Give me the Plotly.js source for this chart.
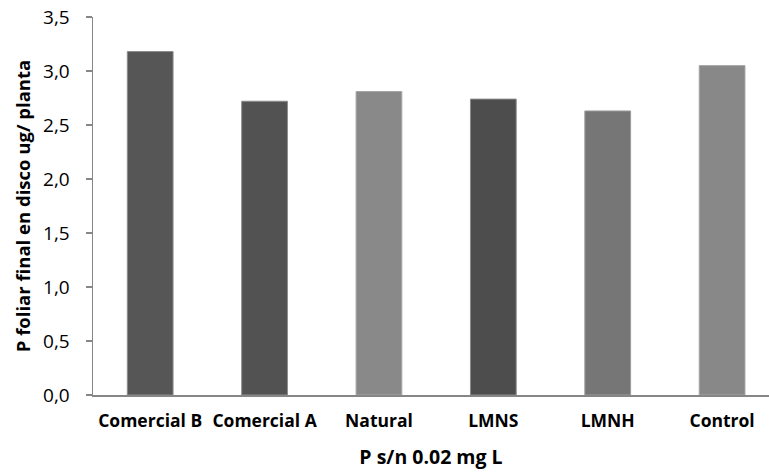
<!DOCTYPE html>
<html>
<head>
<meta charset="utf-8">
<script src="https://cdn.plot.ly/plotly-3.0.1.min.js"></script>
<style>
  html, body { margin: 0; padding: 0; background: #ffffff; }
  #chart { width: 769px; height: 472px; }
</style>
</head>
<body>
<div id="chart"></div>
<script>
// Foliar P per treatment
const categories = ["Comercial B", "Comercial A", "Natural", "LMNS", "LMNH", "Control"];
const values = [3.18, 2.72, 2.81, 2.74, 2.63, 3.05];
const barColors = ["#565656", "#525252", "#898989", "#4d4d4d", "#767676", "#888888"];
const edgeColors = ["#8c8c8c", "#8c8c8c", "#a6a6a6", "#8c8c8c", "#9c9c9c", "#a6a6a6"];
const yTicks = [0, 0.5, 1, 1.5, 2, 2.5, 3, 3.5];

const font = "'Open Sans', 'Liberation Sans', sans-serif";

const trace = {
  type: "bar",
  x: categories,
  y: values,
  marker: { color: barColors, line: { color: edgeColors, width: 1 } },
  hoverinfo: "x+y"
};

const layout = {
  width: 769,
  height: 472,
  margin: { l: 93, r: 0, t: 17, b: 77 },
  paper_bgcolor: "#ffffff",
  plot_bgcolor: "#ffffff",
  separators: ",.",
  bargap: 0.6,
  showlegend: false,
  font: { family: font, color: "#000000" },
  xaxis: {
    type: "category",
    range: [-0.5, 5.41],
    showline: true,
    linecolor: "#868686",
    linewidth: 1.5,
    ticks: "",
    showgrid: false,
    zeroline: false,
    tickfont: { family: font, size: 17.5, color: "#000000", weight: "bold" },
    ticklabelstandoff: 9,
    title: { text: "<b>P s/n 0.02 mg L</b>", font: { family: font, size: 19.5, color: "#000000" }, standoff: 20 }
  },
  yaxis: {
    range: [0, 3.5],
    tickvals: yTicks,
    tickformat: ".1f",
    showline: true,
    linecolor: "#868686",
    linewidth: 1.5,
    ticks: "outside",
    ticklen: 6,
    tickwidth: 1.5,
    tickcolor: "#868686",
    showgrid: false,
    zeroline: false,
    tickfont: { family: font, size: 19, color: "#000000" },
    ticklabelstandoff: 12,
    title: { text: "<b>P foliar final en disco ug/ planta</b>", font: { family: font, size: 18.5, color: "#000000" }, standoff: 7 }
  }
};

Plotly.newPlot("chart", [trace], layout, { staticPlot: true, displayModeBar: false });
</script>
</body>
</html>
